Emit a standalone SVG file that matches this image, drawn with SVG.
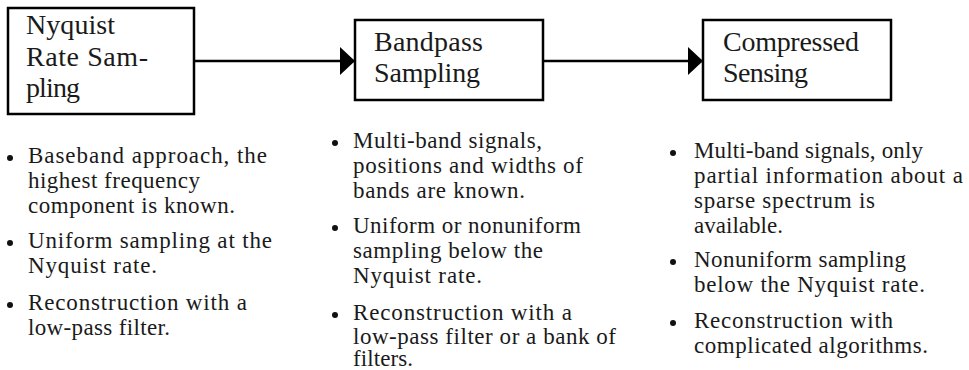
<svg xmlns="http://www.w3.org/2000/svg" width="969" height="370" viewBox="0 0 969 370">
<style>
.box{fill:#fff;stroke:#000;stroke-width:2.5}
.bt{font-family:"Liberation Serif","Times New Roman",serif;font-size:28px;fill:#1a1a1a}
.t{font-family:"Liberation Serif","Times New Roman",serif;font-size:23px;fill:#1a1a1a}
.conn{stroke:#000;stroke-width:2.5;fill:none}
.dot{fill:#111}
</style>
<defs>
<marker id="ah" markerUnits="userSpaceOnUse" markerWidth="15" markerHeight="28" refX="15" refY="14" orient="auto" viewBox="0 0 15 28">
<path d="M0,0 L15,14 L0,28 Z" fill="#000"/>
</marker>
</defs>
<g id="connectors">
<line class="conn" x1="194" y1="61" x2="355" y2="61" marker-end="url(#ah)"/>
<line class="conn" x1="543" y1="61" x2="703" y2="61" marker-end="url(#ah)"/>
</g>
<g id="node-nyquist">
<rect class="box" x="8" y="8" width="186" height="106"/>
<text class="bt" x="26" y="34" textLength="89">Nyquist</text>
<text class="bt" x="26" y="66" textLength="122">Rate Sam-</text>
<text class="bt" x="26" y="97" textLength="54">pling</text>
</g>
<g id="node-bandpass">
<rect class="box" x="355" y="20" width="188" height="80"/>
<text class="bt" x="374" y="51" textLength="109">Bandpass</text>
<text class="bt" x="374" y="82" textLength="106">Sampling</text>
</g>
<g id="node-cs">
<rect class="box" x="703" y="20" width="188" height="80"/>
<text class="bt" x="723" y="51" textLength="136">Compressed</text>
<text class="bt" x="723" y="82" textLength="85">Sensing</text>
</g>
<g id="list-nyquist">
<circle class="dot" cx="10" cy="158" r="3"/>
<text class="t" x="28" y="163" textLength="239">Baseband approach, the</text>
<text class="t" x="28" y="188" textLength="172">highest frequency</text>
<text class="t" x="28" y="213" textLength="207">component is known.</text>
<circle class="dot" cx="10" cy="243" r="3"/>
<text class="t" x="28" y="248" textLength="244">Uniform sampling at the</text>
<text class="t" x="28" y="273" textLength="129">Nyquist rate.</text>
<circle class="dot" cx="10" cy="305" r="3"/>
<text class="t" x="28" y="310" textLength="219">Reconstruction with a</text>
<text class="t" x="28" y="335" textLength="142">low-pass filter.</text>
</g>
<g id="list-bandpass">
<circle class="dot" cx="335" cy="143" r="3"/>
<text class="t" x="353" y="148" textLength="189">Multi-band signals,</text>
<text class="t" x="353" y="173" textLength="230">positions and widths of</text>
<text class="t" x="353" y="198" textLength="172">bands are known.</text>
<circle class="dot" cx="335" cy="228" r="3"/>
<text class="t" x="353" y="233" textLength="228">Uniform or nonuniform</text>
<text class="t" x="353" y="258" textLength="190">sampling below the</text>
<text class="t" x="353" y="283" textLength="129">Nyquist rate.</text>
<circle class="dot" cx="335" cy="315" r="3"/>
<text class="t" x="353" y="320" textLength="219">Reconstruction with a</text>
<text class="t" x="353" y="344" textLength="263">low-pass filter or a bank of</text>
<text class="t" x="353" y="366" textLength="60">filters.</text>
</g>
<g id="list-cs">
<circle class="dot" cx="673" cy="153" r="3"/>
<text class="t" x="694" y="158" textLength="229">Multi-band signals, only</text>
<text class="t" x="694" y="183" textLength="269">partial information about a</text>
<text class="t" x="694" y="208" textLength="181">sparse spectrum is</text>
<text class="t" x="694" y="233" textLength="89">available.</text>
<circle class="dot" cx="673" cy="262" r="3"/>
<text class="t" x="694" y="267" textLength="212">Nonuniform sampling</text>
<text class="t" x="694" y="292" textLength="231">below the Nyquist rate.</text>
<circle class="dot" cx="673" cy="323" r="3"/>
<text class="t" x="694" y="328" textLength="199">Reconstruction with</text>
<text class="t" x="694" y="353" textLength="234">complicated algorithms.</text>
</g>
</svg>
